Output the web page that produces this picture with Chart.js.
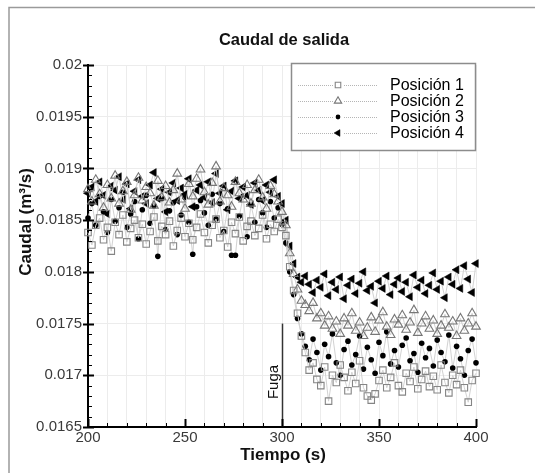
<!DOCTYPE html>
<html><head><meta charset="utf-8">
<script src="https://cdn.jsdelivr.net/npm/chart.js@4"></script>
<style>html,body{margin:0;padding:0;background:#fff;}#wrap{width:535px;height:473px;position:relative;}</style>
</head><body><div id="wrap"><canvas id="c" width="535" height="473"></canvas></div>
<script>
// Time (s), sampled every 2 s
const times = [];
for (let t = 200; t <= 400; t += 2) times.push(t);

const seriesNames = ['Posición 1', 'Posición 2', 'Posición 3', 'Posición 4'];
const chartTitle = 'Caudal de salida';
const xTitle = 'Tiempo (s)';
const yTitle = 'Caudal (m³/s)';
const leakLabel = 'Fuga';
const leakTime = 300;

const pos1 = [
0.01838,0.01826,0.01845,0.01852,0.01831,0.01843,0.01820,0.01848,0.01836,0.01855,
0.01829,0.01842,0.01850,0.01833,0.01846,0.01827,0.01839,0.01853,0.01830,0.01844,
0.01836,0.01849,0.01825,0.01840,0.01852,0.01834,0.01847,0.01831,0.01843,0.01856,
0.01838,0.01828,0.01845,0.01851,0.01833,0.01840,0.01824,0.01848,0.01837,0.01853,
0.01830,0.01844,0.01849,0.01835,0.01842,0.01855,0.01832,0.01846,0.01839,0.01851,
0.01843,
0.01835,0.01805,0.01782,0.01760,0.01738,
0.01722,0.01705,0.01712,0.01696,0.01690,0.01708,0.01675,0.01700,0.01693,0.01710,
0.01698,0.01685,0.01703,0.01692,0.01714,0.01688,0.01680,0.01676,0.01682,0.01695,
0.01705,0.01688,0.01698,0.01712,0.01690,0.01684,0.01702,0.01694,0.01708,0.01687,
0.01696,0.01704,0.01689,0.01699,0.01686,0.01710,0.01693,0.01683,0.01700,0.01691,
0.01705,0.01688,0.01674,0.01695,0.01702];

const pos2 = [
0.01880,0.01868,0.01889,0.01875,0.01862,0.01884,0.01871,0.01893,0.01866,0.01878,
0.01887,0.01860,0.01874,0.01891,0.01869,0.01882,0.01876,0.01864,0.01888,0.01872,
0.01883,0.01867,0.01879,0.01895,0.01870,0.01861,0.01885,0.01873,0.01890,0.01899,
0.01877,0.01865,0.01886,0.01902,0.01868,0.01881,0.01874,0.01863,0.01887,0.01876,
0.01870,0.01884,0.01866,0.01879,0.01889,0.01872,0.01861,0.01883,0.01875,0.01868,
0.01858,
0.01845,0.01818,0.01798,0.01783,0.01772,
0.01768,0.01762,0.01770,0.01755,0.01760,0.01748,0.01757,0.01745,0.01752,0.01740,
0.01755,0.01748,0.01760,0.01743,0.01751,0.01738,0.01746,0.01756,0.01742,0.01753,
0.01761,0.01747,0.01739,0.01754,0.01749,0.01758,0.01744,0.01751,0.01763,0.01741,
0.01750,0.01757,0.01745,0.01753,0.01740,0.01748,0.01759,0.01746,0.01752,0.01738,
0.01755,0.01743,0.01750,0.01760,0.01747];

const pos3 = [
0.01852,0.01866,0.01845,0.01873,0.01858,0.01838,0.01870,0.01849,0.01862,0.01877,
0.01843,0.01856,0.01868,0.01832,0.01860,0.01874,0.01847,0.01864,0.01815,0.01871,
0.01841,0.01859,0.01867,0.01836,0.01855,0.01872,0.01848,0.01817,0.01863,0.01869,
0.01857,0.01845,0.01875,0.01851,0.01866,0.01839,0.01861,0.01816,0.01816,0.01854,
0.01873,0.01834,0.01865,0.01848,0.01870,0.01857,0.01843,0.01868,0.01852,0.01862,
0.01846,
0.01828,0.01800,0.01778,0.01755,0.01740,
0.01728,0.01715,0.01735,0.01722,0.01705,0.01730,0.01718,0.01740,0.01712,0.01700,
0.01725,0.01733,0.01710,0.01720,0.01738,0.01706,0.01727,0.01715,0.01702,0.01732,
0.01719,0.01742,0.01711,0.01724,0.01708,0.01729,0.01736,0.01714,0.01721,0.01703,
0.01731,0.01717,0.01726,0.01709,0.01734,0.01722,0.01713,0.01739,0.01707,0.01728,
0.01716,0.01700,0.01724,0.01735,0.01712];

const pos4 = [
0.01876,0.01882,0.01868,0.01887,0.01874,0.01856,0.01883,0.01879,0.01892,0.01870,
0.01885,0.01861,0.01878,0.01889,0.01873,0.01866,0.01884,0.01896,0.01871,0.01880,
0.01858,0.01877,0.01886,0.01869,0.01881,0.01875,0.01890,0.01863,0.01879,0.01884,
0.01872,0.01887,0.01867,0.01895,0.01876,0.01883,0.01860,0.01878,0.01888,0.01871,
0.01882,0.01874,0.01865,0.01886,0.01879,0.01869,0.01884,0.01877,0.01889,0.01873,
0.01866,
0.01850,0.01825,0.01808,0.01795,0.01790,
0.01796,0.01788,0.01780,0.01792,0.01785,0.01798,0.01777,0.01790,0.01783,0.01795,
0.01774,0.01787,0.01793,0.01779,0.01789,0.01800,0.01782,0.01786,0.01770,0.01791,
0.01784,0.01796,0.01778,0.01788,0.01794,0.01781,0.01790,0.01776,0.01797,0.01785,
0.01792,0.01779,0.01787,0.01799,0.01783,0.01791,0.01775,0.01795,0.01788,0.01802,
0.01784,0.01806,0.01793,0.01780,0.01808];

const xMin = 200, xMax = 400, xMajor = 50, xMinor = 10;
const yMin = 0.0165, yMax = 0.02, yMajor = 0.0005, yMinor = 0.0001;

const FONT = 'Arial, "Liberation Sans", sans-serif';
const pts = arr => arr.map((v, i) => ({x: times[i], y: v}));

const lineCol = '#d2d2d2';
const datasets = [
  {label: seriesNames[0], data: pts(pos1), pointStyle: 'rect', pointRadius: 4.6, pointBorderWidth: 1.1,
   pointBorderColor: '#858585', pointBackgroundColor: 'rgba(255,255,255,0)'},
  {label: seriesNames[1], data: pts(pos2), pointStyle: 'triangle', pointRadius: 5, pointBorderWidth: 1.1,
   pointBorderColor: '#777', pointBackgroundColor: 'rgba(255,255,255,0)'},
  {label: seriesNames[2], data: pts(pos3), pointStyle: 'circle', pointRadius: 2.8, pointBorderWidth: 0,
   pointBorderColor: '#000', pointBackgroundColor: '#000'},
  {label: seriesNames[3], data: pts(pos4), pointStyle: 'triangle', pointRotation: -90, pointRadius: 4.6, pointBorderWidth: 0.5,
   pointBorderColor: '#000', pointBackgroundColor: '#000'}
].map(d => Object.assign({borderColor: lineCol, borderWidth: 1, tension: 0, clip: 8, pointHoverRadius: 4}, d));

const fmt = v => Number(v.toFixed(5)).toString();

const deco = {
  id: 'deco',
  beforeDraw(chart) {
    const ctx = chart.ctx;
    ctx.save();
    ctx.fillStyle = '#fff';
    ctx.fillRect(0, 0, chart.width, chart.height);
    ctx.strokeStyle = '#9a9a9a';
    ctx.lineWidth = 1.5;
    ctx.beginPath();
    ctx.moveTo(9, 473); ctx.lineTo(9, 7.5); ctx.lineTo(535, 7.5);
    ctx.stroke();
    ctx.restore();
  },
  afterDatasetsDraw(chart) {
    const ctx = chart.ctx, xs = chart.scales.x, ys = chart.scales.y;
    ctx.save();
    const lx = Math.round(xs.getPixelForValue(leakTime)) + 0.5;
    ctx.strokeStyle = '#333';
    ctx.lineWidth = 1.5;
    ctx.beginPath();
    ctx.moveTo(lx, ys.getPixelForValue(0.0175));
    ctx.lineTo(lx, ys.getPixelForValue(yMin));
    ctx.stroke();
    ctx.translate(lx - 9, 382);
    ctx.rotate(-Math.PI / 2);
    ctx.fillStyle = '#111';
    ctx.font = '15px ' + FONT;
    ctx.textAlign = 'center';
    ctx.textBaseline = 'middle';
    ctx.fillText(leakLabel, 0, 0);
    ctx.restore();
  },
  afterDraw(chart) {
    const ctx = chart.ctx, xs = chart.scales.x, ys = chart.scales.y;
    ctx.save();
    ctx.strokeStyle = '#000';
    const by = ys.getPixelForValue(yMin);
    for (let t = xMin; t <= xMax + 1e-9; t += xMinor) {
      const px = Math.round(xs.getPixelForValue(t)) + 0.5;
      const major = Math.abs(t % xMajor) < 1e-9;
      ctx.lineWidth = major ? 2 : 1;
      ctx.beginPath();
      ctx.moveTo(px, by);
      ctx.lineTo(px, by - (major ? 8 : 4));
      ctx.stroke();
    }
    const ax = xs.getPixelForValue(xMin);
    for (let k = 0; k <= Math.round((yMax - yMin) / yMinor); k++) {
      const v = yMin + k * yMinor;
      const py = Math.round(ys.getPixelForValue(v)) + 0.5;
      const major = k % 5 === 0;
      ctx.lineWidth = major ? 2 : 1;
      ctx.beginPath();
      ctx.moveTo(major ? ax - 5 : ax, py);
      ctx.lineTo(ax + (major ? 6 : 4), py);
      ctx.stroke();
    }
    ctx.fillStyle = '#111';
    ctx.textAlign = 'center';
    ctx.textBaseline = 'middle';
    ctx.font = 'bold 16.5px ' + FONT;
    ctx.fillText(chartTitle, 284, 40);
    ctx.font = 'bold 17px ' + FONT;
    ctx.fillText(xTitle, 283, 455);
    ctx.save();
    ctx.translate(26, 222);
    ctx.rotate(-Math.PI / 2);
    ctx.fillText(yTitle, 0, 0);
    ctx.restore();
    // Legend
    const lx0 = 291, ly0 = 63, lw = 184, lh = 87;
    ctx.fillStyle = '#fff';
    ctx.fillRect(lx0, ly0, lw, lh);
    ctx.strokeStyle = '#8c8c8c';
    ctx.lineWidth = 1.5;
    ctx.strokeRect(lx0 + 0.5, ly0 + 0.5, lw, lh);
    const rows = [85, 101, 117, 133];
    chart.data.datasets.forEach((ds, i) => {
      const y = rows[i];
      ctx.strokeStyle = '#b5b5b5';
      ctx.lineWidth = 1;
      ctx.setLineDash([1, 1]);
      ctx.beginPath();
      ctx.moveTo(298, y + 0.5); ctx.lineTo(377, y + 0.5);
      ctx.stroke();
      ctx.setLineDash([]);
      ctx.fillStyle = '#fff';
      ctx.fillRect(333, y - 5, 10, 10);
      ctx.strokeStyle = ds.pointBorderColor;
      ctx.fillStyle = ds.pointBackgroundColor;
      ctx.lineWidth = ds.pointBorderWidth || 0.01;
      Chart.helpers.drawPoint(ctx, {pointStyle: ds.pointStyle, rotation: ds.pointRotation || 0,
        radius: ds.pointRadius * 0.85, borderWidth: ds.pointBorderWidth}, 338, y);
      ctx.fillStyle = '#000';
      ctx.textAlign = 'left';
      ctx.font = '16px ' + FONT;
      ctx.fillText(ds.label, 390, y + 1);
    });
    ctx.restore();
  }
};

new Chart(document.getElementById('c'), {
  type: 'line',
  data: {datasets},
  options: {
    responsive: false,
    animation: false,
    events: [],
    layout: {padding: {left: 0, top: 65, right: 59, bottom: 0}},
    plugins: {legend: {display: false}, title: {display: false}, tooltip: {enabled: false}},
    scales: {
      x: {
        type: 'linear', min: xMin, max: xMax,
        afterFit: s => { s.height = 46; },
        grid: {color: '#ececec', lineWidth: 1, drawTicks: false},
        border: {display: true, color: '#000', width: 2},
        ticks: {stepSize: xMinor, autoSkip: false, maxRotation: 0, padding: 2,
          color: '#3a3a3a', font: {family: FONT, size: 15},
          callback: v => (Math.abs(v % xMajor) < 1e-9 ? String(v) : '')}
      },
      y: {
        type: 'linear', min: yMin, max: yMax,
        afterFit: s => { s.width = 88; },
        grid: {color: '#ececec', lineWidth: 1, drawTicks: false},
        border: {display: true, color: '#000', width: 2},
        ticks: {stepSize: yMajor, padding: 6, color: '#3a3a3a', font: {family: FONT, size: 15},
          callback: v => fmt(v)}
      }
    }
  },
  plugins: [deco]
});
</script>
</body></html>
